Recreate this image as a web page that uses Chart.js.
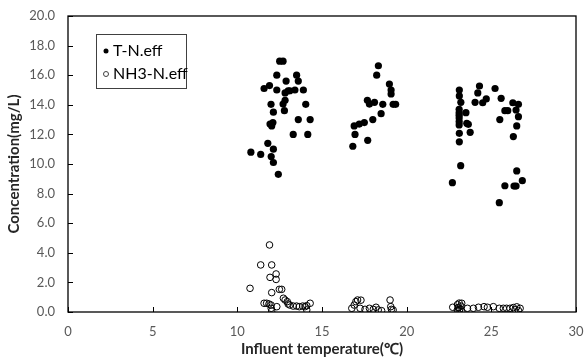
<!DOCTYPE html>
<html>
<head>
<meta charset="utf-8">
<script src="https://cdn.jsdelivr.net/npm/chart.js@4"></script>
<style>
  body { margin: 0; background: #fff; }
</style>
</head>
<body>
<canvas id="myChart" width="584" height="358"></canvas>
<script>
// T-N.eff series (temperature, concentration)
var tnTemp = [12.5, 12.7, 12.33, 13.5, 13.6, 12.88, 11.58, 11.9, 12.33, 12.82, 13.0, 13.1, 13.4, 13.9,
  12.82, 12.7, 11.99, 14.04, 12.13, 12.78, 13.6, 14.3, 11.93, 12.1, 12.03, 13.3, 14.16, 11.8, 12.13,
  10.8, 11.38, 12.0, 12.13, 12.42,
  18.33, 18.23, 18.98, 19.08, 19.08, 17.68, 17.8, 18.1, 18.59, 19.2, 19.35, 18.49, 18.0, 16.9, 17.2,
  17.5, 16.95, 17.7, 16.82,
  23.11, 23.11, 23.2, 24.3, 24.2, 24.04, 24.49, 24.7, 25.22, 25.58, 26.27, 26.6, 25.8, 25.97, 26.46,
  26.6, 25.5, 26.5, 26.3, 23.1, 23.1, 23.1, 23.1, 23.1, 23.1, 23.5, 23.55, 23.64, 23.75, 23.11, 23.11,
  23.19, 22.7, 26.5, 26.83, 25.8, 26.34, 26.46, 25.47];
var tnConc = [16.95, 16.95, 16.0, 16.0, 15.6, 15.6, 15.1, 15.3, 15.0, 14.8, 14.95, 14.95, 15.0, 15.0,
  14.3, 14.05, 14.03, 14.03, 13.5, 13.6, 13.0, 13.0, 12.7, 12.8, 12.57, 12.0, 12.0, 11.4, 11.0,
  10.8, 10.65, 10.5, 10.1, 9.3,
  16.64, 16.0, 15.4, 15.0, 14.73, 14.3, 14.05, 14.17, 14.03, 14.03, 14.03, 13.4, 13.0, 12.57, 12.7,
  12.8, 12.0, 11.6, 11.2,
  15.0, 14.6, 14.17, 15.27, 14.8, 14.17, 14.14, 14.4, 15.1, 14.44, 14.14, 14.03, 13.6, 13.6, 13.65,
  13.2, 13.0, 12.57, 11.85, 13.7, 13.47, 13.3, 13.1, 12.86, 12.64, 13.47, 12.75, 12.68, 12.14, 12.07, 11.5,
  9.89, 8.74, 9.53, 8.87, 8.53, 8.51, 8.51, 7.39];

// NH3-N.eff series
var nhTemp = [11.9, 11.38, 12.03, 12.29, 11.93, 12.29, 10.75, 12.03, 12.48, 12.62, 11.58, 11.73, 11.87,
  11.99, 12.0, 12.03, 12.33, 12.72, 12.82, 12.95, 13.0, 13.1, 13.3, 13.5, 13.66, 13.86, 14.0, 14.1, 14.3, 14.1,
  16.76, 16.9, 17.0, 17.1, 17.3, 17.25, 17.54, 17.8, 18.03, 18.19, 18.32, 18.52, 19.02, 19.06, 19.1, 19.2,
  22.72, 23.0, 23.05, 23.1, 23.1, 23.15, 23.2, 23.25, 23.0, 23.25, 23.59, 23.94, 24.24, 24.57, 24.77,
  25.12, 25.47, 25.71, 25.9, 26.1, 26.3, 26.4, 26.5, 26.6, 26.7];
var nhConc = [4.53, 3.18, 3.18, 2.57, 2.34, 2.2, 1.6, 1.31, 1.53, 1.53, 0.59, 0.59, 0.54,
  0.47, 0.25, 0.07, 0.36, 0.93, 0.81, 0.7, 0.54, 0.47, 0.4, 0.4, 0.36, 0.4, 0.36, 0.43, 0.59, 0.14,
  0.25, 0.47, 0.7, 0.81, 0.8, 0.25, 0.18, 0.25, 0.18, 0.32, 0.14, 0.09, 0.81, 0.36, 0.18, 0.14,
  0.32, 0.5, 0.3, 0.1, 0.6, 0.2, 0.4, 0.05, 0.15, 0.59, 0.25, 0.25, 0.32, 0.36, 0.32,
  0.36, 0.25, 0.25, 0.25, 0.25, 0.3, 0.15, 0.35, 0.1, 0.25];

var seriesNames = ['T-N.eff', 'NH3-N.eff'];
var xTitle = 'Influent temperature(℃)';
var yTitle = 'Concentration(mg/L)';

function toPoints(xs, ys) {
  return xs.map(function(x, i) { return { x: x, y: ys[i] }; });
}

var FONT = 'Lato, "Liberation Sans", sans-serif';

// box round the plot, inward ticks, legend inside the plot
var framePlugin = {
  id: 'frame',
  afterDatasetsDraw: function(chart) {
    var ctx = chart.ctx, a = chart.chartArea;
    var xs = chart.scales.x, ys = chart.scales.y;
    ctx.save();
    ctx.strokeStyle = '#000';
    ctx.lineWidth = 1.3;
    ctx.strokeRect(a.left, a.top, a.right - a.left, a.bottom - a.top);
    ctx.lineWidth = 1;
    ctx.beginPath();
    xs.ticks.forEach(function(t) {
      var px = Math.round(xs.getPixelForValue(t.value)) + 0.5;
      ctx.moveTo(px, a.bottom); ctx.lineTo(px, a.bottom - 5);
    });
    ys.ticks.forEach(function(t) {
      var py = Math.round(ys.getPixelForValue(t.value)) + 0.5;
      ctx.moveTo(a.left, py); ctx.lineTo(a.left + 5, py);
    });
    ctx.stroke();

    // legend
    var lx = a.left + 28, ly = a.top + 18;
    ctx.fillStyle = '#fff';
    ctx.fillRect(lx, ly, 90, 54);
    ctx.strokeStyle = '#404040';
    ctx.strokeRect(lx + 0.5, ly + 0.5, 90, 54);
    ctx.font = '16px ' + FONT;
    ctx.textBaseline = 'middle';
    ctx.fillStyle = '#000';
    ctx.beginPath(); ctx.arc(lx + 10, ly + 17, 2.5, 0, Math.PI * 2); ctx.fill();
    ctx.fillText(chart.data.datasets[0].label, lx + 17, ly + 17);
    ctx.beginPath(); ctx.arc(lx + 10, ly + 40, 2.5, 0, Math.PI * 2); ctx.stroke();
    ctx.fillText(chart.data.datasets[1].label, lx + 17, ly + 40);
    ctx.restore();
  }
};

var ctx = document.getElementById('myChart').getContext('2d');
var myChart = new Chart(ctx, {
  type: 'scatter',
  data: {
    datasets: [{
      label: seriesNames[0],
      data: toPoints(tnTemp, tnConc),
      pointRadius: 3.6,
      pointBackgroundColor: '#000',
      pointBorderColor: '#000',
      pointBorderWidth: 0
    }, {
      label: seriesNames[1],
      data: toPoints(nhTemp, nhConc),
      pointRadius: 3.3,
      pointBackgroundColor: 'rgba(255,255,255,0)',
      pointBorderColor: '#000',
      pointBorderWidth: 1
    }]
  },
  options: {
    responsive: false,
    animation: false,
    layout: { padding: { left: 0, top: 16, right: 8, bottom: 0 } },
    plugins: {
      legend: { display: false },
      tooltip: { enabled: false }
    },
    scales: {
      x: {
        type: 'linear',
        min: 0, max: 30,
        grid: { display: false, drawTicks: false },
        border: { display: false },
        ticks: { stepSize: 5, padding: 12, color: '#595959', font: { family: FONT, size: 13 } },
        title: { display: true, text: xTitle, color: '#262626',
          font: { family: FONT, size: 15, weight: 'bold' }, padding: { top: 0, bottom: 0 } },
        afterFit: function(s) { s.height = 46; s.paddingLeft = 0; s.paddingRight = 0; }
      },
      y: {
        min: 0, max: 20,
        grid: { display: false, drawTicks: false },
        border: { display: false },
        ticks: { stepSize: 2, padding: 13, color: '#595959', font: { family: FONT, size: 13 },
          callback: function(v) { return v.toFixed(1); } },
        title: { display: true, text: yTitle, color: '#262626',
          font: { family: FONT, size: 15, weight: 'bold' }, padding: { top: 5, bottom: 0 } },
        afterFit: function(s) { s.width = 68; s.paddingTop = 0; s.paddingBottom = 0; }
      }
    }
  },
  plugins: [framePlugin]
});
</script>
</body>
</html>
